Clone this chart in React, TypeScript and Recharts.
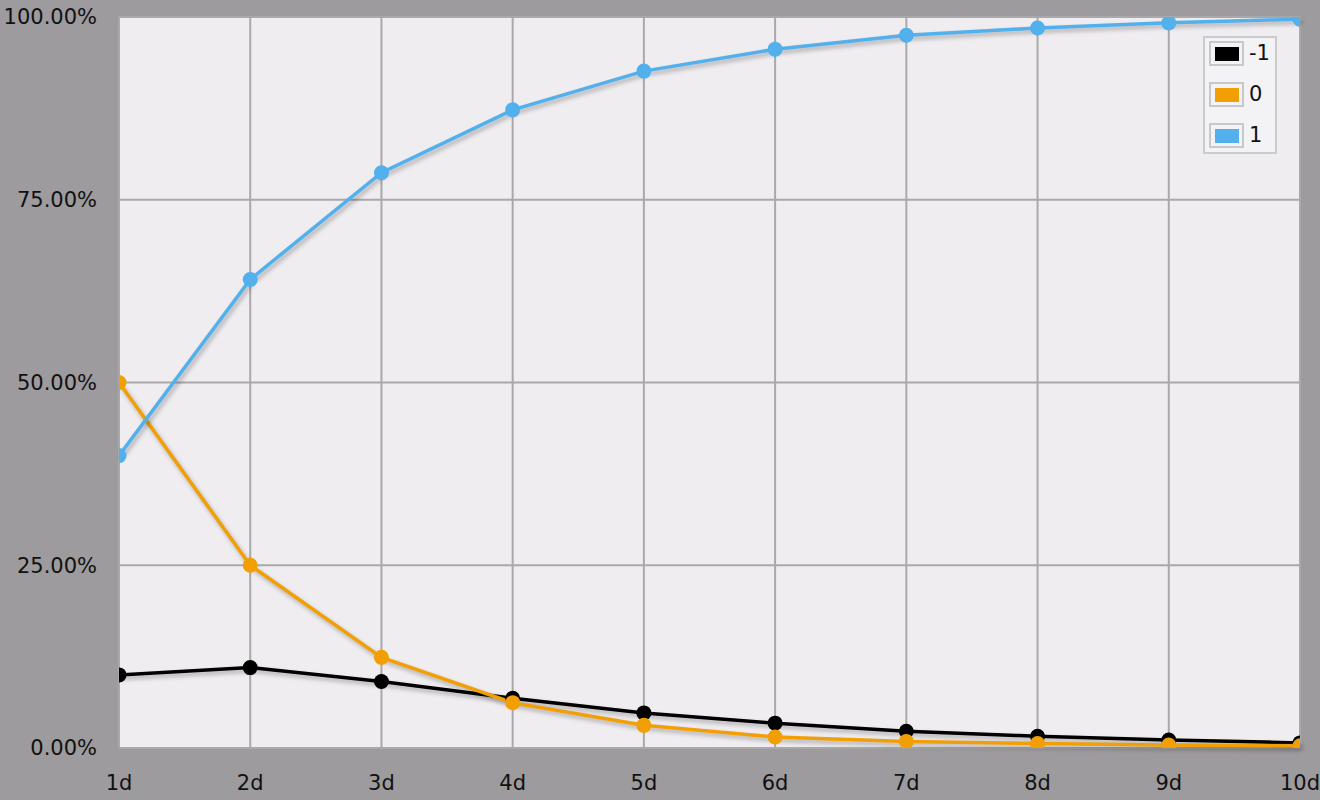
import React from 'react';
import { LineChart, Line, XAxis, YAxis, CartesianGrid, Legend } from 'recharts';

const categories = ['1d', '2d', '3d', '4d', '5d', '6d', '7d', '8d', '9d', '10d'];
const seriesNames = ['-1', '0', '1'];
const seriesColors = ['#000000', '#f29f05', '#52b0ec'];
const valuesNeg1 = [10.0, 11.0, 9.1, 6.8, 4.8, 3.4, 2.3, 1.6, 1.1, 0.7];
const values0 = [50.0, 25.0, 12.4, 6.2, 3.1, 1.5, 0.9, 0.6, 0.4, 0.3];
const values1 = [40.0, 64.1, 78.7, 87.3, 92.6, 95.6, 97.5, 98.5, 99.2, 99.7];
const yTicks = [0, 25, 50, 75, 100];

const seriesValues = [valuesNeg1, values0, values1];
const data = categories.map((c, i) => {
  const row: Record<string, string | number> = { cat: c };
  seriesNames.forEach((n, k) => {
    row[n] = seriesValues[k][i];
  });
  return row;
});

const FONT = '"DejaVu Sans", Verdana, sans-serif';

const renderLegend = () => (
  <div
    style={{
      width: 74,
      height: 118,
      boxSizing: 'border-box',
      background: '#f3f2f4',
      border: '2px solid #cbcacc',
      padding: '3px 0 0 4px',
      fontFamily: FONT,
      fontSize: 21,
      color: '#111',
      lineHeight: 1,
    }}
  >
    {seriesNames.map((n, i) => (
      <div key={n} style={{ display: 'flex', alignItems: 'center', height: 25, marginBottom: 16 }}>
        <div
          style={{
            width: 35,
            height: 25,
            boxSizing: 'border-box',
            border: '2px solid #c8c7c9',
            display: 'flex',
            alignItems: 'center',
            justifyContent: 'center',
          }}
        >
          <div style={{ width: 24, height: 14, background: seriesColors[i] }} />
        </div>
        <span style={{ marginLeft: 5 }}>{n}</span>
      </div>
    ))}
  </div>
);

export default function App() {
  return (
    <div style={{ position: 'absolute', left: 0, top: 0, width: 1320, height: 800, background: '#9d9b9e' }}>
      <style>{`.recharts-line { filter: drop-shadow(2px 3px 2px rgba(0,0,0,0.28)); }`}</style>
      <LineChart width={1320} height={800} data={data} margin={{ top: 17, right: 20, bottom: 0, left: 0 }}>
        <CartesianGrid fill="#efedf0" fillOpacity={1} stroke="#a9a8aa" strokeWidth={2} />
        <XAxis
          dataKey="cat"
          height={52}
          axisLine={false}
          tickLine={false}
          tickSize={0}
          tickMargin={27}
          allowDataOverflow
          interval={0}
          tick={{ fill: '#111', fontSize: 21, fontFamily: FONT }}
        />
        <YAxis
          width={119}
          domain={[0, 100]}
          ticks={yTicks}
          axisLine={false}
          tickLine={false}
          tickSize={0}
          tickMargin={22}
          allowDataOverflow
          tickFormatter={(v: number) => `${v.toFixed(2)}%`}
          tick={{ fill: '#111', fontSize: 21, fontFamily: FONT }}
        />
        <Legend
          layout="vertical"
          align="center"
          verticalAlign="middle"
          content={renderLegend}
          wrapperStyle={{ position: 'absolute', left: 1203, top: 36, width: 74, height: 118 }}
        />
        {seriesNames.map((n, i) => (
          <Line
            key={n}
            type="linear"
            dataKey={n}
            stroke={seriesColors[i]}
            strokeWidth={3.5}
            dot={{ r: 7.5, fill: seriesColors[i], stroke: 'none', strokeWidth: 0 }}
            activeDot={false}
            isAnimationActive={false}
          />
        ))}
      </LineChart>
    </div>
  );
}
